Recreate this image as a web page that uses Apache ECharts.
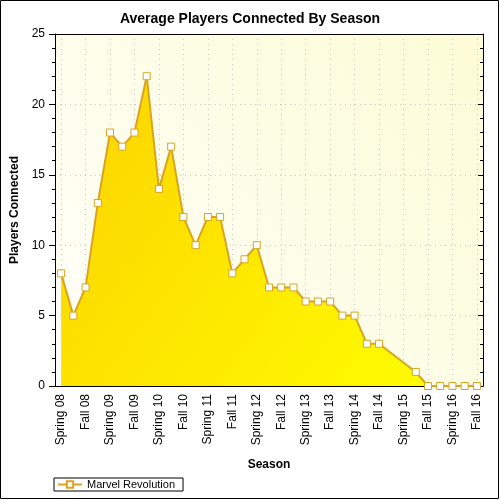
<!DOCTYPE html>
<html>
<head>
<meta charset="utf-8">
<script src="https://cdn.jsdelivr.net/npm/echarts@6/dist/echarts.min.js"></script>
<style>
  html, body { margin: 0; padding: 0; background: #fff; }
  #chart { width: 500px; height: 500px; }
</style>
</head>
<body>
<div id="chart"></div>
<script>
// seasons - 4 per year, only Spring / Fall get a label
const seasons = [
    'Spring 08', 'Summer 08', 'Fall 08', 'Winter 08',
    'Spring 09', 'Summer 09', 'Fall 09', 'Winter 09',
    'Spring 10', 'Summer 10', 'Fall 10', 'Winter 10',
    'Spring 11', 'Summer 11', 'Fall 11', 'Winter 11',
    'Spring 12', 'Summer 12', 'Fall 12', 'Winter 12',
    'Spring 13', 'Summer 13', 'Fall 13', 'Winter 13',
    'Spring 14', 'Summer 14', 'Fall 14', 'Winter 14',
    'Spring 15', 'Summer 15', 'Fall 15', 'Winter 15',
    'Spring 16', 'Summer 16', 'Fall 16'
];
const playersConnected = [
    8, 5, 7, 13, 18, 17, 18, 22, 14, 17, 12, 10, 12, 12, 8, 9,
    10, 7, 7, 7, 6, 6, 6, 5, 5, 3, 3, null, null, 1, 0, 0, 0, 0, 0
];
const seriesName = 'Marvel Revolution';
const yTicks = [0, 25, 5];   // min, max, interval

document.addEventListener('DOMContentLoaded', () => {

    const chart = echarts.init(document.getElementById('chart'));
    const font  = 'Liberation Sans, Arial, sans-serif';

    const option = {
        animation: false,
        backgroundColor: '#fff',
        title: {
            text: 'Average Players Connected By Season',
            left: 'center', top: 7,
            textStyle: { fontFamily: font, fontSize: 14, fontWeight: 'bold', color: '#000' }
        },
        legend: {
            left: 54, top: 478,
            padding: [1, 8, 1, 3],
            borderColor: '#000', borderWidth: 1,
            itemWidth: 24, itemHeight: 8, itemGap: 6,
            textStyle: { fontFamily: font, fontSize: 11, color: '#000' },
            data: [seriesName]
        },
        grid: {
            left: 55, right: 17, top: 34, bottom: 114,
            show: true, borderWidth: 0,
            backgroundColor: new echarts.graphic.LinearGradient(0, 1, 1, 0, [
                { offset: 0, color: '#fffffa' },
                { offset: 1, color: '#fdfcd6' }
            ])
        },
        xAxis: [
            {   // labels + major ticks
                type: 'category', data: seasons, position: 'bottom',
                name: 'Season', nameLocation: 'middle', nameGap: 73,
                nameTextStyle: { fontFamily: font, fontSize: 12, fontWeight: 'bold', color: '#000' },
                axisLine: { lineStyle: { color: '#000', width: 1 } },
                axisTick: { interval: 1, alignWithLabel: true, length: 6, lineStyle: { color: '#000' } },
                axisLabel: { interval: 1, rotate: 90, margin: 8, fontFamily: font, fontSize: 12, color: '#000' },
                splitLine: { show: true, interval: 1, alignWithLabel: true,
                    lineStyle: { color: '#c8c8c8', type: [1, 4], width: 1 } }
            },
            {   // minor ticks
                type: 'category', data: seasons, position: 'bottom',
                axisLine: { show: false },
                axisTick: { interval: 0, alignWithLabel: true, length: 3, lineStyle: { color: '#000' } },
                axisLabel: { show: false },
                splitLine: { show: false }
            },
            {   // top border
                type: 'category', data: seasons, position: 'top',
                axisLine: { lineStyle: { color: '#000', width: 1 } },
                axisTick: { interval: 0, alignWithLabel: true, inside: true, length: 4, lineStyle: { color: '#000' } },
                axisLabel: { show: false },
                splitLine: { show: false }
            }
        ],
        yAxis: [
            {
                type: 'value', min: yTicks[0], max: yTicks[1], interval: yTicks[2],
                name: 'Players Connected', nameLocation: 'middle', nameGap: 31,
                nameTextStyle: { fontFamily: font, fontSize: 12, fontWeight: 'bold', color: '#000' },
                axisLine: { show: true, lineStyle: { color: '#000', width: 1 } },
                axisTick: { show: true, length: 6, lineStyle: { color: '#000' } },
                minorTick: { show: true, splitNumber: 5, length: 3, lineStyle: { color: '#000' } },
                axisLabel: { margin: 10, fontFamily: font, fontSize: 12, color: '#000' },
                splitLine: { show: true, lineStyle: { color: '#c8c8c8', type: [1, 4], width: 1 } }
            },
            {   // right border
                type: 'value', min: yTicks[0], max: yTicks[1], interval: yTicks[2], position: 'right',
                axisLine: { show: true, lineStyle: { color: '#000', width: 1 } },
                axisTick: { show: true, inside: true, length: 5, lineStyle: { color: '#000' } },
                minorTick: { show: true, splitNumber: 5, length: 3, lineStyle: { color: '#000' } },
                axisLabel: { show: false },
                splitLine: { show: false }
            }
        ],
        series: [{
            name: seriesName,
            type: 'line',
            data: playersConnected,
            connectNulls: true,
            symbol: 'rect', symbolSize: 7,
            itemStyle: { color: '#fff', borderColor: '#d9a420', borderWidth: 1 },
            lineStyle: { color: '#d9a420', width: 2 },
            areaStyle: {
                opacity: 1,
                color: new echarts.graphic.LinearGradient(0, 0, 1, 1, [
                    { offset: 0, color: '#fcd200' },
                    { offset: 1, color: '#ffff00' }
                ])
            }
        }],
        graphic: [{
            type: 'rect', silent: true,
            shape: { x: 0.5, y: 0.5, width: 498, height: 498 },
            style: { fill: null, stroke: '#000', lineWidth: 1 }
        }]
    };

    chart.setOption(option);
});
</script>
</body>
</html>
